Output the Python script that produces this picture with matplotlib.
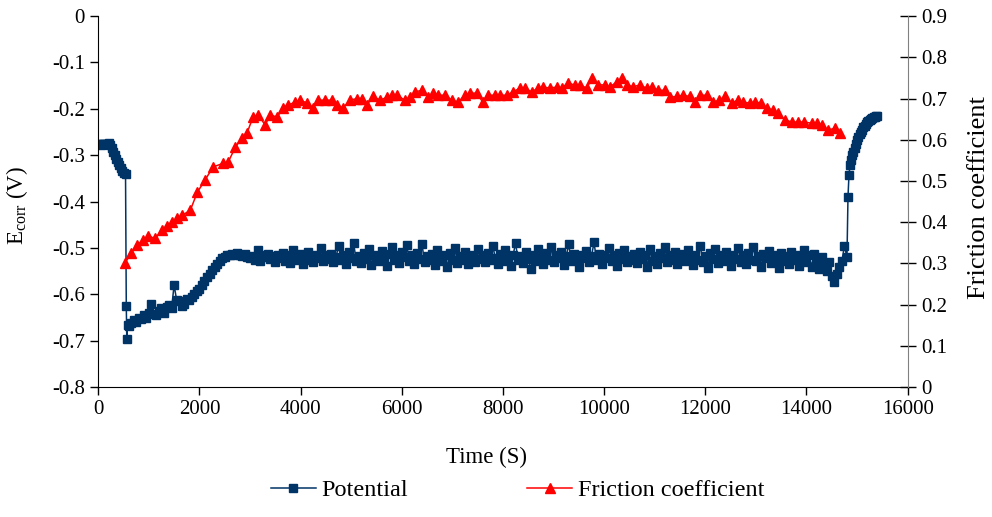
import numpy as np
import matplotlib
matplotlib.use('Agg')
import matplotlib.pyplot as plt

plt.rcParams['font.family'] = 'Liberation Serif'
plt.rcParams['mathtext.fontset'] = 'custom'
plt.rcParams['mathtext.rm'] = 'Liberation Serif'

# --- potential (V) ---
# start of test, before the load is applied
t_start = [0, 30, 60, 90, 120, 150, 180, 210, 240, 270, 300, 330, 360, 390,
           420, 450, 480, 510, 540, 555, 565, 580]
e_start = [-0.276, -0.276, -0.277, -0.276, -0.275, -0.276, -0.275, -0.274,
           -0.278, -0.285, -0.293, -0.300, -0.308, -0.315, -0.322, -0.328,
           -0.334, -0.338, -0.340, -0.625, -0.695, -0.665]

# sliding, sampled every 50 s from 600 s to 14750 s
t_slide = np.arange(600, 14800, 50)
e_slide = [
    -0.668, -0.662, -0.655, -0.660, -0.650, -0.652, -0.645, -0.650, -0.640, -0.620,
    -0.643, -0.645, -0.635, -0.630, -0.640, -0.628, -0.622, -0.630, -0.580, -0.612,
    -0.615, -0.625, -0.620, -0.610, -0.612, -0.605, -0.598, -0.592, -0.588, -0.580,
    -0.572, -0.562, -0.555, -0.548, -0.540, -0.535, -0.528, -0.522, -0.520, -0.516,
    -0.515, -0.512, -0.514, -0.510, -0.515, -0.518, -0.512, -0.520, -0.522, -0.518,
    -0.525, -0.505, -0.528, -0.515, -0.520, -0.512, -0.524, -0.518, -0.530, -0.515,
    -0.522, -0.510, -0.528, -0.515, -0.532, -0.505, -0.520, -0.526, -0.512, -0.535,
    -0.518, -0.508, -0.525, -0.530, -0.514, -0.522, -0.500, -0.528, -0.516, -0.524,
    -0.512, -0.530, -0.520, -0.495, -0.526, -0.515, -0.535, -0.508, -0.522, -0.490,
    -0.528, -0.518, -0.532, -0.510, -0.524, -0.502, -0.536, -0.515, -0.520, -0.528,
    -0.506, -0.522, -0.538, -0.512, -0.498, -0.526, -0.515, -0.532, -0.508, -0.520,
    -0.494, -0.528, -0.516, -0.534, -0.510, -0.524, -0.492, -0.530, -0.518, -0.526,
    -0.512, -0.536, -0.505, -0.522, -0.528, -0.515, -0.540, -0.510, -0.525, -0.500,
    -0.532, -0.518, -0.526, -0.508, -0.535, -0.520, -0.514, -0.530, -0.502, -0.524,
    -0.516, -0.530, -0.510, -0.526, -0.496, -0.522, -0.534, -0.512, -0.528, -0.505,
    -0.520, -0.538, -0.515, -0.490, -0.526, -0.518, -0.532, -0.508, -0.524, -0.545,
    -0.514, -0.528, -0.502, -0.520, -0.535, -0.510, -0.526, -0.498, -0.530, -0.516,
    -0.522, -0.508, -0.536, -0.518, -0.492, -0.528, -0.512, -0.525, -0.540, -0.515,
    -0.522, -0.506, -0.530, -0.518, -0.488, -0.526, -0.512, -0.534, -0.515, -0.522,
    -0.500, -0.528, -0.516, -0.538, -0.510, -0.524, -0.505, -0.530, -0.518, -0.526,
    -0.512, -0.532, -0.508, -0.524, -0.516, -0.540, -0.502, -0.528, -0.518, -0.535,
    -0.510, -0.522, -0.498, -0.530, -0.515, -0.526, -0.508, -0.534, -0.520, -0.512,
    -0.528, -0.505, -0.522, -0.536, -0.514, -0.526, -0.495, -0.530, -0.518, -0.542,
    -0.510, -0.524, -0.502, -0.532, -0.516, -0.528, -0.508, -0.520, -0.538, -0.514,
    -0.524, -0.500, -0.530, -0.516, -0.534, -0.510, -0.526, -0.498, -0.528, -0.518,
    -0.540, -0.512, -0.522, -0.506, -0.532, -0.515, -0.526, -0.542, -0.510, -0.528,
    -0.518, -0.534, -0.508, -0.526, -0.514, -0.538, -0.520, -0.505, -0.530, -0.516,
    -0.540, -0.512, -0.528, -0.545, -0.520, -0.535, -0.550, -0.530, -0.560, -0.573,
    -0.555, -0.540, -0.528, -0.495,
]

# after the load is removed
t_end = [14800, 14820, 14840, 14860, 14880, 14900, 14925, 14950, 14975, 15000,
         15025, 15050, 15075, 15100, 15125, 15150, 15175, 15200, 15225, 15250,
         15275, 15300, 15325, 15350, 15375, 15400]
e_end = [-0.520, -0.390, -0.342, -0.322, -0.310, -0.300, -0.292, -0.285, -0.276,
         -0.268, -0.261, -0.255, -0.250, -0.245, -0.240, -0.236, -0.232, -0.229,
         -0.226, -0.224, -0.222, -0.220, -0.218, -0.217, -0.216, -0.215]

time_pot = np.concatenate([t_start, t_slide, t_end])
potential = np.concatenate([e_start, e_slide, e_end])

# --- friction coefficient ---
time_fric = [530, 650, 770, 890, 990, 1130, 1260, 1360, 1460, 1560, 1660, 1820,
             1960, 2110, 2270, 2470, 2570, 2710, 2840, 2940, 3060, 3160, 3300,
             3400, 3540, 3650, 3750, 3890, 3990, 4130, 4250, 4350, 4480, 4620,
             4720, 4840, 4980, 5120, 5210, 5310, 5430, 5570, 5710, 5810, 5910,
             6060, 6160, 6260, 6400, 6520, 6620, 6720, 6850, 6990, 7110, 7250,
             7350, 7490, 7600, 7700, 7840, 7940, 8080, 8200, 8330, 8430, 8570,
             8690, 8790, 8930, 9070, 9160, 9280, 9420, 9520, 9660, 9760, 9880,
             10010, 10110, 10250, 10350, 10450, 10570, 10700, 10840, 10940,
             11060, 11200, 11300, 11440, 11550, 11690, 11790, 11890, 12030,
             12150, 12280, 12380, 12520, 12640, 12740, 12880, 12980, 13110,
             13210, 13330, 13430, 13570, 13710, 13830, 13960, 14100, 14200,
             14300, 14420, 14560, 14660]
friction = [0.301, 0.325, 0.344, 0.357, 0.366, 0.361, 0.381, 0.391, 0.400, 0.410,
            0.417, 0.429, 0.473, 0.502, 0.534, 0.543, 0.546, 0.582, 0.604, 0.616,
            0.655, 0.660, 0.636, 0.660, 0.655, 0.677, 0.684, 0.691, 0.696, 0.689,
            0.677, 0.696, 0.696, 0.696, 0.684, 0.677, 0.696, 0.700, 0.700, 0.684,
            0.705, 0.696, 0.703, 0.708, 0.708, 0.696, 0.703, 0.716, 0.720, 0.703,
            0.713, 0.708, 0.708, 0.696, 0.691, 0.708, 0.713, 0.713, 0.691, 0.708,
            0.708, 0.708, 0.708, 0.716, 0.725, 0.725, 0.716, 0.725, 0.728, 0.725,
            0.728, 0.725, 0.737, 0.733, 0.733, 0.725, 0.750, 0.733, 0.733, 0.728,
            0.740, 0.750, 0.733, 0.728, 0.733, 0.725, 0.728, 0.720, 0.720, 0.703,
            0.705, 0.708, 0.705, 0.691, 0.708, 0.708, 0.691, 0.696, 0.705, 0.689,
            0.696, 0.691, 0.689, 0.691, 0.689, 0.677, 0.672, 0.665, 0.648, 0.643,
            0.643, 0.643, 0.640, 0.640, 0.636, 0.623, 0.628, 0.616]

navy = '#003366'
red = '#ff0000'

fig, ax = plt.subplots(figsize=(9.92, 5.17), dpi=100)
fig.subplots_adjust(left=0.099, right=0.915, top=0.969, bottom=0.251)
ax2 = ax.twinx()

l1, = ax.plot(time_pot, potential, color=navy, lw=1.1, marker='s', ms=6.4,
              mec=navy, mfc=navy, label='Potential')
l2, = ax2.plot(time_fric, friction, color=red, lw=1.1, marker='^', ms=7.3,
               mec=red, mfc=red, label='Friction coefficient')

ax.set_xlim(0, 16000)
ax.set_ylim(-0.8, 0)
ax2.set_ylim(0, 0.9)
ax.set_xticks(np.arange(0, 16001, 2000))
ax.set_yticks(np.arange(-0.8, 0.01, 0.1))
ax.set_yticklabels(['-0.8', '-0.7', '-0.6', '-0.5', '-0.4', '-0.3', '-0.2', '-0.1', '0'])
ax2.set_yticks(np.arange(0, 0.91, 0.1))
ax2.set_yticklabels(['0', '0.1', '0.2', '0.3', '0.4', '0.5', '0.6', '0.7', '0.8', '0.9'])

fs = 15
ax.tick_params(axis='both', labelsize=fs, direction='out', length=6, width=1)
ax2.tick_params(axis='y', labelsize=fs, direction='inout', length=12, width=1)

for a in (ax, ax2):
    a.spines['top'].set_visible(False)
ax.spines['right'].set_visible(False)
ax2.spines['left'].set_visible(False)
ax2.spines['bottom'].set_visible(False)
ax2.spines['right'].set_color('#808080')

ax.set_xlabel('Time (S)', fontsize=16.5)
ax.xaxis.set_label_coords(0.48, -0.162)
ax.set_ylabel(r'E$_{\mathrm{corr}}$ (V)', fontsize=16.5)
ax.yaxis.set_label_coords(-0.084, 0.49)
ax2.set_ylabel('Friction coefficient', fontsize=19)
ax2.yaxis.set_label_coords(1.074, 0.51)

fig.legend(handles=[l1, l2], loc='center', bbox_to_anchor=(0.522, 0.052),
           ncol=2, frameon=False, fontsize=17.5, handlelength=1.85,
           handletextpad=0.25, columnspacing=4.9)

plt.savefig('out.png', dpi=100)
